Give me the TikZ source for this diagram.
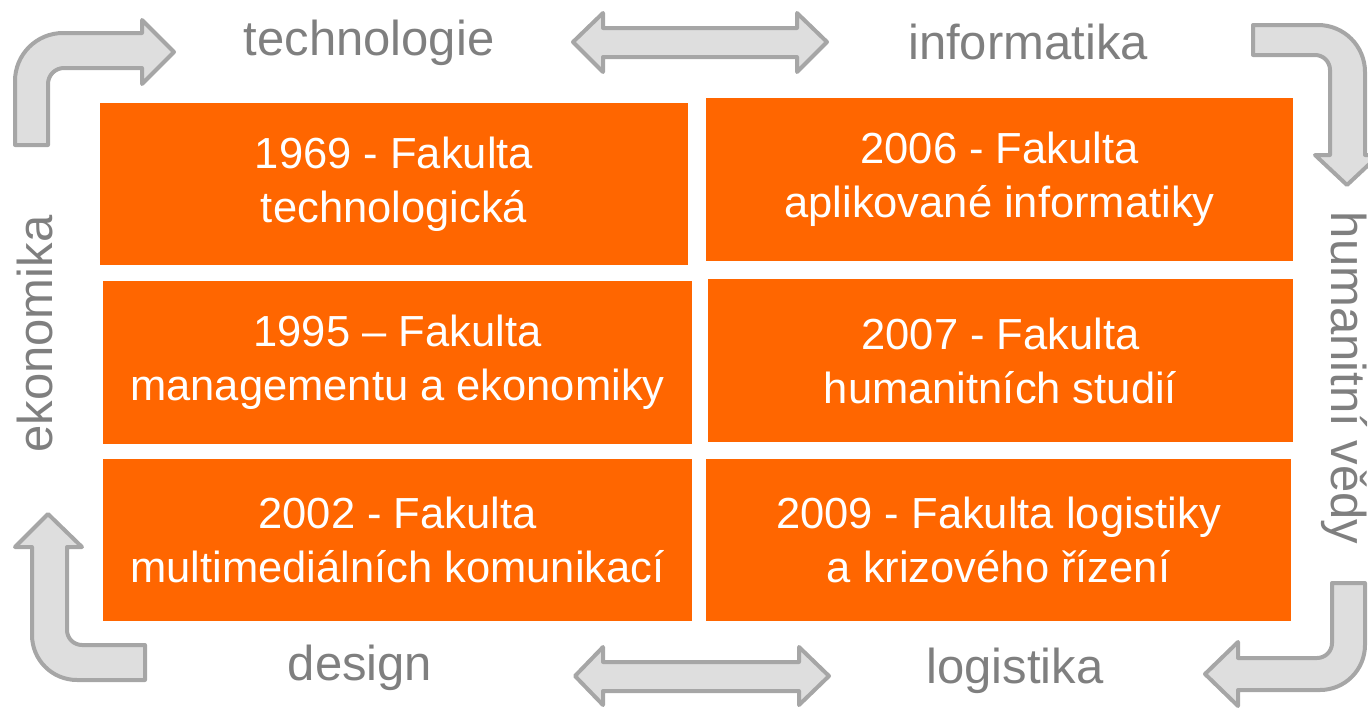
\documentclass[tikz,border=0pt]{standalone}
\usepackage{fontspec}
\setmainfont{Liberation Sans}
\definecolor{orng}{HTML}{FF6600}
\definecolor{arrfill}{HTML}{DEDEDE}
\definecolor{arrline}{HTML}{A6A6A6}
\definecolor{lbl}{HTML}{7F7F7F}
\tikzset{
  box/.style={fill=orng, draw=none, inner sep=0pt, minimum width=588pt, minimum height=162pt,
    text=white, align=center, font=\fontsize{43.5}{54}\selectfont},
  lbltext/.style={text=lbl, inner sep=0pt, font=\fontsize{49}{58}\selectfont},
  grayarrow/.style={fill=arrfill, draw=arrline, line width=4pt, line join=round}
}
\begin{document}
\begin{tikzpicture}[x=1pt,y=1pt]
\useasboundingbox (0,0) rectangle (1368,-707);
% boxes
\node[box, minimum width=588pt, minimum height=162pt] (b1) at (394,-184) {1969 - Fakulta\\technologická};
\node[box, minimum width=587pt, minimum height=163pt] (b2) at (999.5,-179.5) {2006 - Fakulta\\aplikované informatiky};
\node[box, minimum width=589pt, minimum height=163pt] (b3) at (397.5,-362.5) {1995 – Fakulta\\managementu a ekonomiky};
\node[box, minimum width=585pt, minimum height=163pt] (b4) at (1000.5,-360.5) {2007 - Fakulta\\humanitních studií};
\node[box, minimum width=589pt, minimum height=162pt] (b5) at (397.5,-540) {2002 - Fakulta\\multimediálních komunikací};
\node[box, minimum width=585pt, minimum height=162pt] (b6) at (998.5,-540) {2009 - Fakulta logistiky\\a krizového řízení};
% labels
\node[lbltext] (ltech) at (369,-43) {technologie};
\node[lbltext] (linf) at (1028,-42) {informatika};
\node[lbltext] (ldes) at (360,-668) {design};
\node[lbltext] (llog) at (1015,-671) {logistika};
\node[lbltext, rotate=90] (lek) at (35,-334) {ekonomika};
\node[lbltext, rotate=-90] (lhum) at (1344,-378) {humanitní vědy};
% bent arrows
\draw[grayarrow] (15,-145) -- (15,-81) arc (180:90:48) -- (142,-33) -- (142,-20) -- (174,-52)
  -- (142,-84) -- (142,-68) -- (64,-68) arc (90:180:16) -- (48,-145) -- cycle;
\draw[grayarrow] (1253,-25) -- (1318,-25) arc (90:0:47) -- (1365,-155) -- (1379,-155) -- (1347,-185)
  -- (1315,-155) -- (1330,-155) -- (1330,-70) arc (0:90:15) -- (1253,-55) -- cycle;
\draw[grayarrow] (48,-514) -- (82,-547) -- (67,-547) -- (67,-630) arc (180:270:15) -- (145,-645)
  -- (145,-680) -- (77,-680) arc (270:180:45) -- (32,-547) -- (15,-547) -- cycle;
\draw[grayarrow] (1332,-583) -- (1365,-583) -- (1365,-645) arc (0:-90:45) -- (1238,-690) -- (1238,-706)
  -- (1205,-674) -- (1238,-642) -- (1238,-658) -- (1317,-658) arc (-90:0:15) -- cycle;
% double arrows
\draw[grayarrow] (573,-42) -- (603,-13) -- (603,-28) -- (797,-28) -- (797,-13) -- (827,-42)
  -- (797,-72) -- (797,-57) -- (603,-57) -- (603,-72) -- cycle;
\draw[grayarrow] (575,-676) -- (603,-647) -- (603,-662) -- (799,-662) -- (799,-647) -- (829,-676)
  -- (799,-705) -- (799,-691) -- (603,-691) -- (603,-705) -- cycle;
\end{tikzpicture}
\end{document}
